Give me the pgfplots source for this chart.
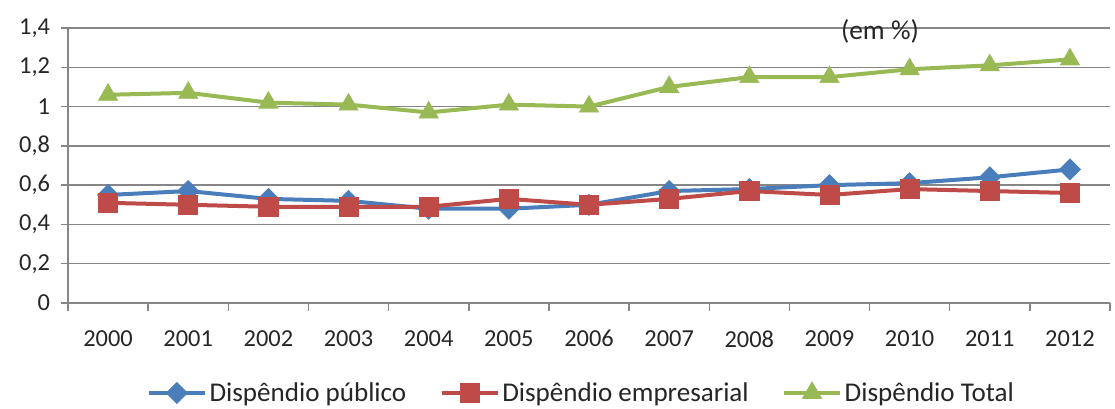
\documentclass[border=0pt]{standalone}
\usepackage{fontspec}
\setmainfont{Carlito}
\usepackage{pgfplots}
\pgfplotsset{compat=1.18}
\definecolor{cblue}{HTML}{4A7EBB}
\definecolor{cred}{HTML}{BE4B48}
\definecolor{cgreen}{HTML}{98B954}
\definecolor{cgrid}{HTML}{868686}
\begin{document}
\begin{tikzpicture}[x=1pt,y=1pt]
\useasboundingbox (-51pt,-78.75pt) rectangle (785.25pt,227.25pt);
\begin{axis}[
  at={(0pt,0pt)}, anchor=south west,
  scale only axis, width=781.5pt, height=206.25pt,
  xmin=-0.5, xmax=12.5, ymin=0, ymax=1.4,
  clip=false,
  axis x line*=bottom, axis y line*=left,
  axis line style={cgrid, line width=1.3pt, -},
  xtick={0,...,12},
  xticklabels={2000,2001,2002,2003,2004,2005,2006,2007,2008,2009,2010,2011,2012},
  major x tick style={draw=none},
  minor xtick={-0.5,0.5,...,12.5},
  minor x tick style={cgrid, line width=1.1pt},
  minor tick length=6pt,
  ytick={0,0.2,...,1.4},
  y tick style={cgrid, line width=1.1pt},
  major tick length=5pt,
  tick align=outside,
  ymajorgrids,
  grid style={cgrid, line width=1.1pt},
  yticklabel style={/pgf/number format/use comma, /pgf/number format/fixed, /pgf/number format/precision=1, xshift=-5pt},
  /pgf/number format/assume math mode=true,
  ticklabel style={font=\fontsize{18.3}{21}\selectfont, text=black!85},
  xticklabel style={yshift=-12pt},
  legend style={at={(0.493,-0.327)}, anchor=center, draw=none, legend columns=3,
    font=\fontsize{20.3}{23}\selectfont, text=black!85,
    /tikz/every even column/.append style={column sep=23pt}},
  legend cell align=left,
  legend image code/.code={\draw[mark repeat=2,mark phase=2] plot coordinates {(0pt,0pt)(21pt,0pt)(42pt,0pt)};},
  every axis plot/.append style={line width=3pt},
]
\addplot[color=cblue, mark=square*, mark size=5.6pt, mark options={rotate=45, line width=0.5pt, fill=cblue}] coordinates {
(0,0.55)(1,0.57)(2,0.53)(3,0.52)(4,0.48)(5,0.48)(6,0.50)(7,0.57)(8,0.58)(9,0.60)(10,0.61)(11,0.64)(12,0.68)};
\addlegendentry{Dispêndio público}
\addplot[color=cred, mark=square*, mark size=7.2pt, mark options={line width=0.5pt, fill=cred}] coordinates {
(0,0.51)(1,0.50)(2,0.49)(3,0.49)(4,0.49)(5,0.53)(6,0.50)(7,0.53)(8,0.57)(9,0.55)(10,0.58)(11,0.57)(12,0.56)};
\addlegendentry{Dispêndio empresarial}
\addplot[color=cgreen, mark=triangle*, mark size=8.3pt, mark options={line width=0.5pt, fill=cgreen}] coordinates {
(0,1.06)(1,1.07)(2,1.02)(3,1.01)(4,0.97)(5,1.01)(6,1.00)(7,1.10)(8,1.15)(9,1.15)(10,1.19)(11,1.21)(12,1.24)};
\addlegendentry{Dispêndio Total}
\node[font=\fontsize{20.5}{23}\selectfont, text=black!85] at (axis cs:9.63,1.385) {(em \%)};
\end{axis}
\end{tikzpicture}
\end{document}
